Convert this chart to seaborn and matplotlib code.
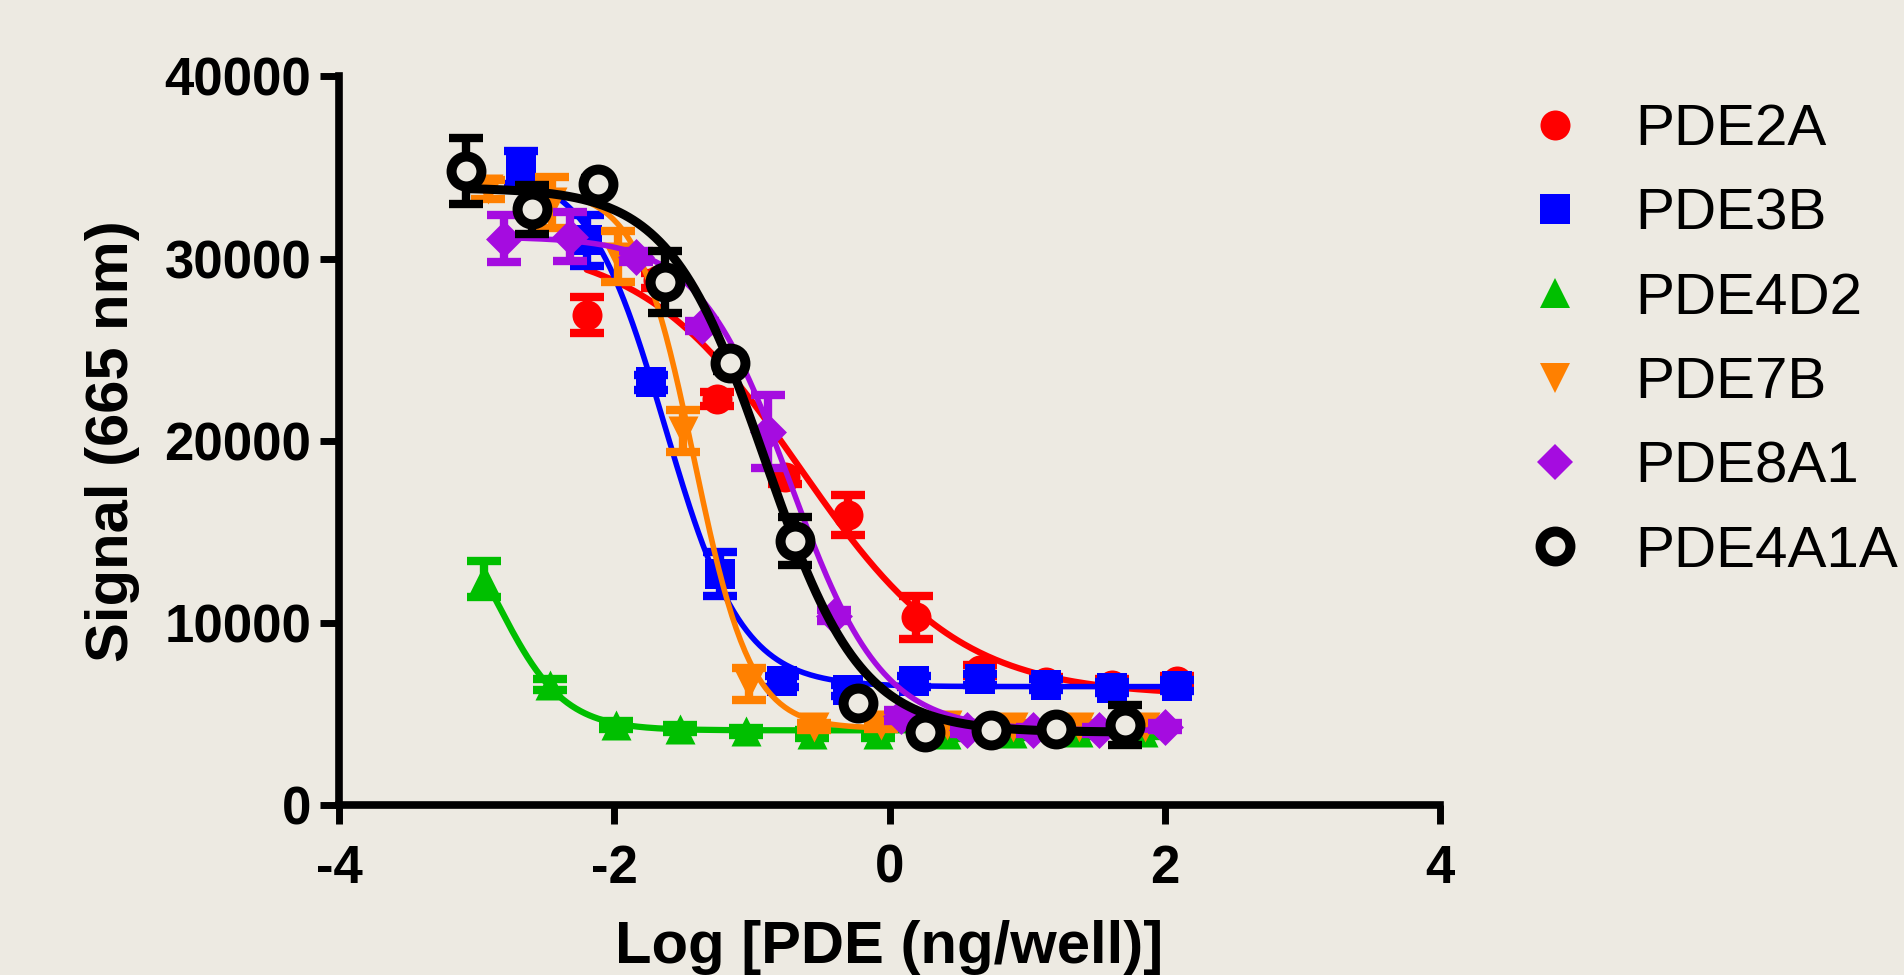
import numpy as np
import pandas as pd
import matplotlib
matplotlib.use("Agg")
import matplotlib.pyplot as plt
from matplotlib.lines import Line2D
import seaborn as sns

# ---------------- data ----------------
series_names = ["PDE2A", "PDE3B", "PDE4D2", "PDE7B", "PDE8A1", "PDE4A1A"]

pde2a_x = [-2.20, -1.68, -1.25, -0.76, -0.30, 0.19, 0.66, 1.14, 1.62, 2.09]
pde2a_y = [26900, 28800, 22300, 18000, 15900, 10300, 7400, 6750, 6600, 6800]
pde2a_e = [1000, 400, 400, 400, 1100, 1200, 300, 300, 300, 300]

pde3b_x = [-2.68, -2.20, -1.73, -1.23, -0.78, -0.30, 0.18, 0.66, 1.14, 1.62, 2.09]
pde3b_y = [35000, 31000, 23200, 12700, 6800, 6300, 6800, 6900, 6600, 6450, 6550]
pde3b_e = [900, 1400, 400, 1200, 300, 300, 300, 300, 300, 300, 300]

pde4d2_x = [-2.95, -2.47, -1.99, -1.52, -1.04, -0.565, -0.08, 0.41, 0.89, 1.37, 1.84]
pde4d2_y = [12400, 6600, 4400, 4200, 4050, 3900, 3900, 3900, 3950, 4000, 4000]
pde4d2_e = [1000, 300, 200, 200, 200, 200, 200, 200, 200, 200, 200]

pde7b_x = [-2.92, -2.45, -1.97, -1.50, -1.02, -0.55, -0.06, 0.42, 0.90, 1.38, 1.86]
pde7b_y = [33800, 33100, 30100, 20550, 6630, 4300, 4400, 4400, 4300, 4300, 4300]
pde7b_e = [500, 1400, 1400, 1150, 870, 200, 200, 200, 200, 200, 200]

pde8a1_x = [-2.80, -2.32, -1.84, -1.36, -0.88, -0.40, 0.08, 0.56, 1.04, 1.52, 2.00]
pde8a1_y = [31100, 31200, 30100, 26300, 20500, 10400, 4900, 4100, 4100, 4100, 4300]
pde8a1_e = [1300, 1350, 300, 300, 2000, 300, 300, 200, 200, 200, 200]

pde4a1a_x = [-3.08, -2.60, -2.12, -1.63, -1.16, -0.69, -0.23, 0.26, 0.74, 1.21, 1.71]
pde4a1a_y = [34800, 32700, 34100, 28700, 24250, 14500, 5600, 4000, 4100, 4150, 4400]
pde4a1a_e = [1800, 1350, 300, 1700, 400, 1300, 300, 300, 300, 300, 1100]

# fitted 4-parameter logistic curves: top, bottom, logEC50, hill slope
fit_top = [31000, 35000, 18100, 33800, 31200, 33900]
fit_bottom = [6000, 6500, 4100, 4200, 4100, 4000]
fit_logec50 = [-0.65, -1.63, -2.85, -1.42, -0.72, -0.904]
fit_hill = [0.75, 1.55, 1.80, 2.10, 1.30, 1.25]

x_ticks = [-4, -2, 0, 2, 4]
y_ticks = [0, 10000, 20000, 30000, 40000]
x_label = "Log [PDE (ng/well)]"
y_label = "Signal (665 nm)"

# ---------------- styling ----------------
colors = ["#FF0000", "#0000FF", "#00BF00", "#FF8000", "#A50CE0", "#000000"]
markers = ["o", "s", "^", "v", "D", "o"]
msizes = [21.6, 21.6, 21.6, 21.6, 18.8, 21.5]     # points
open_lw = 7.2
curve_lw = [4.5, 4.0, 4.5, 4.0, 4.0, 6.5]
bg = "#EDEAE2"

sns.set_theme(style="ticks")
plt.rcParams["font.family"] = ["Liberation Sans", "DejaVu Sans"]
plt.rcParams["axes.unicode_minus"] = False
plt.rcParams["text.color"] = "black"

fig = plt.figure(figsize=(19.04, 9.75), dpi=100, facecolor=bg)
ax = fig.add_axes([339 / 1904, 170 / 975, 1101 / 1904, 728.5 / 975])
ax.set_facecolor(bg)

xs = [pde2a_x, pde3b_x, pde4d2_x, pde7b_x, pde8a1_x, pde4a1a_x]
ys = [pde2a_y, pde3b_y, pde4d2_y, pde7b_y, pde8a1_y, pde4a1a_y]
es = [pde2a_e, pde3b_e, pde4d2_e, pde7b_e, pde8a1_e, pde4a1a_e]

for i, name in enumerate(series_names):
    z = 3 + i * 3
    df = pd.DataFrame({"x": xs[i], "y": ys[i], "e": es[i]})
    ax.errorbar(df["x"], df["y"], yerr=df["e"], fmt="none", ecolor=colors[i],
                elinewidth=6, capsize=12, capthick=6, zorder=z)
    xc = np.linspace(min(xs[i]), max(xs[i]), 300)
    yc = fit_bottom[i] + (fit_top[i] - fit_bottom[i]) / (1 + 10 ** ((xc - fit_logec50[i]) * fit_hill[i]))
    cdf = pd.DataFrame({"x": xc, "y": yc})
    open_marker = (name == "PDE4A1A")
    if open_marker:
        sns.lineplot(data=cdf, x="x", y="y", ax=ax, color=colors[i], lw=curve_lw[i],
                     estimator=None, sort=False, zorder=z + 1, legend=False)
        sns.scatterplot(data=df, x="x", y="y", ax=ax, marker="o",
                        s=msizes[i] ** 2, facecolor=bg, edgecolor=colors[i],
                        linewidth=open_lw, zorder=z + 2, legend=False)
    else:
        sns.scatterplot(data=df, x="x", y="y", ax=ax, marker=markers[i],
                        s=msizes[i] ** 2, color=colors[i], linewidth=0,
                        zorder=z + 1, legend=False)
        sns.lineplot(data=cdf, x="x", y="y", ax=ax, color=colors[i], lw=curve_lw[i],
                     estimator=None, sort=False, zorder=z + 2, legend=False)

ax.set_xlim(-4, 4)
ax.set_ylim(0, 40000)
ax.set_xticks(x_ticks)
ax.set_yticks(y_ticks)
ax.set_xticklabels([str(t) for t in x_ticks])
ax.set_yticklabels([str(t) for t in y_ticks])
for s in ["top", "right"]:
    ax.spines[s].set_visible(False)
for s in ["left", "bottom"]:
    ax.spines[s].set_linewidth(5.5)
    ax.spines[s].set_color("black")
    ax.spines[s].set_capstyle("projecting")
ax.tick_params(axis="both", direction="out", length=14, width=5, color="black",
               labelsize=38, labelcolor="black")
ax.tick_params(axis="x", pad=14)
ax.tick_params(axis="y", pad=6)
for lab in ax.get_xticklabels() + ax.get_yticklabels():
    lab.set_fontweight("bold")

ax.set_xlabel(x_label, fontsize=43, fontweight="bold", color="black")
ax.xaxis.set_label_coords(0.5, -0.158)
ax.set_ylabel(y_label, fontsize=43, fontweight="bold", color="black")
ax.yaxis.set_label_coords(-0.181, 0.5)

handles = []
for i, name in enumerate(series_names):
    if name == "PDE4A1A":
        h = Line2D([], [], ls="none", marker="o", ms=msizes[i], mfc=bg,
                   mec=colors[i], mew=open_lw)
    else:
        h = Line2D([], [], ls="none", marker=markers[i], ms=msizes[i],
                   mfc=colors[i], mec=colors[i], mew=0)
    handles.append(h)
fig.legend(handles, series_names, loc="upper left",
           bbox_to_anchor=(1526 / 1904, 1 - 103 / 975), frameon=False,
           fontsize=42, handlelength=1.0, handletextpad=0.88,
           labelspacing=0.52, borderpad=0, borderaxespad=0, labelcolor="black")

fig.savefig("out.png", dpi=100, facecolor=bg)
